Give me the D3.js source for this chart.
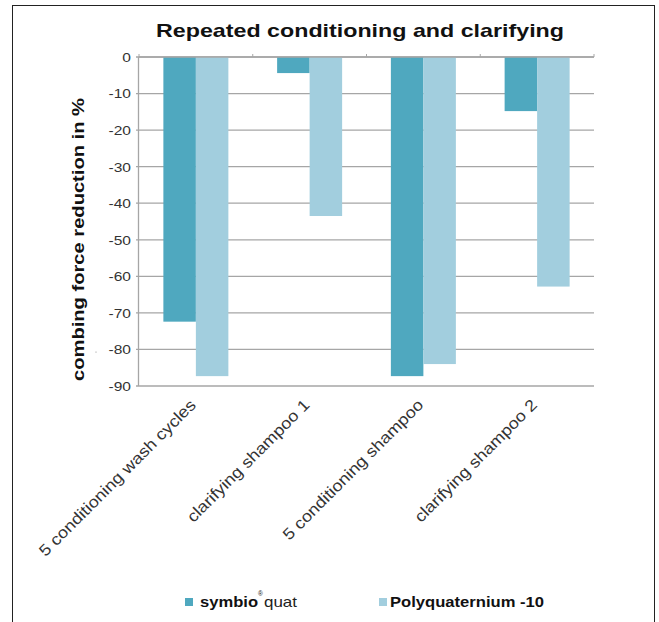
<!DOCTYPE html>
<html>
<head>
<meta charset="utf-8">
<script src="https://cdn.jsdelivr.net/npm/d3@7"></script>
<style>
  body { margin: 0; background: #fff; }
  svg { display: block; font-family: "Liberation Sans", Arial, sans-serif; }
</style>
</head>
<body>
<svg id="chart" width="659" height="622"></svg>
<script>
const categories = ["5 conditioning wash cycles", "clarifying shampoo 1", "5 conditioning shampoo", "clarifying shampoo 2"];
const seriesNames = ["symbioquat", "Polyquaternium -10"];
const symbioquat = [-72.4, -4.4, -87.3, -14.8];
const polyquaternium10 = [-87.3, -43.5, -84.0, -62.8];
const yTicks = [0, -10, -20, -30, -40, -50, -60, -70, -80, -90];
const colors = ["#4fa8bf", "#a2cede"];

(function () {
const svg = d3.select("#chart");
const pLeft = 139, pRight = 594, pTop = 57, pBottom = 386;

// widen text to mimic the wide Helvetica Neue of the reference
function widen(sel, factor) {
  sel.each(function () {
    const len = this.getComputedTextLength();
    d3.select(this).attr("textLength", len * factor).attr("lengthAdjust", "spacingAndGlyphs");
  });
}

// outer frame
svg.append("rect").attr("x", 12.5).attr("y", 5.5).attr("width", 642).attr("height", 640)
  .attr("fill", "none").attr("stroke", "#222").attr("stroke-width", 1);

// title
svg.append("text").attr("x", 360).attr("y", 37).attr("text-anchor", "middle")
  .attr("font-size", 18.6).attr("font-weight", "bold").attr("fill", "#111")
  .attr("textLength", 408).attr("lengthAdjust", "spacingAndGlyphs")
  .text("Repeated conditioning and clarifying");

const x0 = d3.scaleBand().domain(categories).range([pLeft, pRight]).padding(0);
const gap = 1.5;
const off = x0.bandwidth() * gap / (2 * (2 + gap));
const x1 = d3.scaleBand().domain(seriesNames).range([off, x0.bandwidth() - off]).padding(0);
const y = d3.scaleLinear().domain([-90, 0]).range([pBottom, pTop]);

// gridlines
svg.append("g").selectAll("line").data(yTicks).join("line")
  .attr("x1", pLeft - 3).attr("x2", pRight)
  .attr("y1", d => y(d)).attr("y2", d => y(d))
  .attr("stroke", "#a6a6a6").attr("stroke-width", 1.3);

// y axis line
svg.append("line").attr("x1", pLeft - 0.5).attr("x2", pLeft - 0.5).attr("y1", pTop).attr("y2", pBottom)
  .attr("stroke", "#a6a6a6").attr("stroke-width", 1.3);

// y tick labels
const yt = svg.append("g").selectAll("text").data(yTicks).join("text")
  .attr("x", 131).attr("y", d => y(d)).attr("dy", "0.36em")
  .attr("text-anchor", "end").attr("font-size", 13.5).attr("fill", "#333")
  .text(d => d);
widen(yt, 1.15);

// bars
const data = categories.map((c, i) => ({ c, vals: [symbioquat[i], polyquaternium10[i]] }));
const groups = svg.append("g").selectAll("g").data(data).join("g")
  .attr("transform", d => `translate(${x0(d.c)},0)`);
groups.selectAll("rect").data(d => d.vals.map((v, k) => ({ v, s: seriesNames[k], k })))
  .join("rect")
  .attr("x", d => x1(d.s)).attr("width", x1.bandwidth())
  .attr("y", y(0)).attr("height", d => y(d.v) - y(0))
  .attr("fill", d => colors[d.k]);

// top axis line with category boundary ticks
svg.append("line").attr("x1", pLeft).attr("x2", pRight).attr("y1", y(0)).attr("y2", y(0))
  .attr("stroke", "#a6a6a6").attr("stroke-width", 1.3);
const bounds = categories.map(c => x0(c)).concat([pRight]);
svg.append("g").selectAll("line").data(bounds).join("line")
  .attr("x1", d => d).attr("x2", d => d).attr("y1", y(0) - 3).attr("y2", y(0))
  .attr("stroke", "#a6a6a6").attr("stroke-width", 1);

// category labels rotated
const cl = svg.append("g").selectAll("text").data(categories).join("text")
  .attr("transform", d => `translate(${x0(d) + x0.bandwidth() / 2 + 1},${pBottom + 20}) rotate(-45)`)
  .attr("text-anchor", "end").attr("font-size", 16).attr("fill", "#333")
  .text(d => d);
widen(cl, 1.13);

// y axis title
svg.append("text").attr("transform", `translate(84,239.5) rotate(-90)`)
  .attr("text-anchor", "middle").attr("font-size", 17).attr("font-weight", "bold").attr("fill", "#111")
  .attr("textLength", 283).attr("lengthAdjust", "spacingAndGlyphs")
  .text("combing force reduction in %");

// stray dot
svg.append("circle").attr("cx", 96).attr("cy", 352).attr("r", 0.6).attr("fill", "#888");

// legend
const leg = svg.append("g");
leg.append("rect").attr("x", 185).attr("y", 598).attr("width", 8).attr("height", 8).attr("fill", colors[0]);
leg.append("text").attr("x", 200).attr("y", 607).attr("font-size", 15).attr("font-weight", "bold").attr("fill", "#111")
  .attr("textLength", 58).attr("lengthAdjust", "spacingAndGlyphs").text("symbio");
leg.append("text").attr("x", 258).attr("y", 596).attr("font-size", 6.5).attr("fill", "#111").text("®");
leg.append("text").attr("x", 264).attr("y", 607).attr("font-size", 15).attr("fill", "#222")
  .attr("textLength", 33).attr("lengthAdjust", "spacingAndGlyphs").text("quat");
leg.append("rect").attr("x", 379).attr("y", 598).attr("width", 8).attr("height", 8).attr("fill", colors[1]);
leg.append("text").attr("x", 390).attr("y", 607).attr("font-size", 15).attr("font-weight", "bold").attr("fill", "#111")
  .attr("textLength", 154).attr("lengthAdjust", "spacingAndGlyphs")
  .text(seriesNames[1]);
})();
</script>
</body>
</html>
